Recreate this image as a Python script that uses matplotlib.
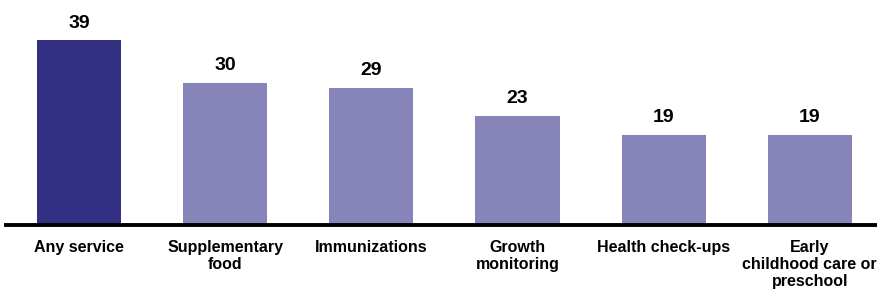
import matplotlib.pyplot as plt

# データ
categories = ['Any service', 'Supplementary\nfood', 'Immunizations', 'Growth\nmonitoring',
              'Health check-ups', 'Early\nchildhood care or\npreschool']
values = [39, 30, 29, 23, 19, 19]
colors = ['#332F83'] + ['#8784B9'] * 5

plt.rcParams['font.family'] = ['Liberation Sans', 'DejaVu Sans']

fig = plt.figure(figsize=(8.77, 2.93), dpi=100)
ax = fig.add_axes([6 / 877, 0.232, 1 - 6 / 877, 0.728])

x = range(len(categories))
bars = ax.bar(x, values, width=0.575, color=colors)

# 数値ラベル
for b, v in zip(bars, values):
    ax.text(b.get_x() + b.get_width() / 2, v + 1.8, str(v), ha='center', va='bottom',
            fontsize=14, fontweight='bold')

ax.set_xlim(-0.5, 5.46)
ax.set_ylim(0, 45)
ax.set_xticks(list(x))
ax.set_xticklabels(categories, fontsize=11.5, fontweight='bold', linespacing=1.15)
ax.tick_params(axis='x', length=0, pad=11)
ax.set_yticks([])

for s in ['top', 'right', 'left']:
    ax.spines[s].set_visible(False)
ax.spines['bottom'].set_linewidth(2.8)

fig.savefig('out.png', dpi=100)
